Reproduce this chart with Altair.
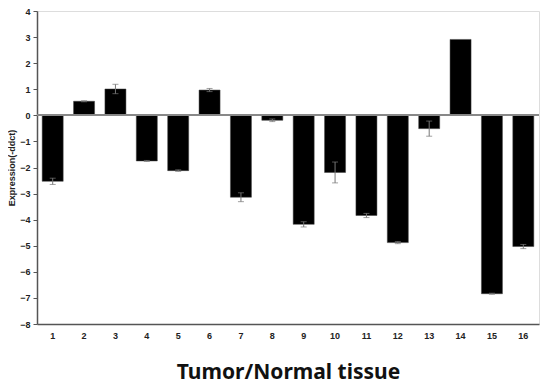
import altair as alt
import pandas as pd

categories = [str(i) for i in range(1, 17)]
values = [-2.53, 0.54, 1.01, -1.75, -2.12, 0.97, -3.14, -0.19, -4.18, -2.19, -3.84, -4.88, -0.51, 2.91, -6.84, -5.03]
errors = [0.12, 0.02, 0.18, 0.02, 0.03, 0.06, 0.17, 0.05, 0.1, 0.4, 0.08, 0.04, 0.29, 0.0, 0.02, 0.08]
y_ticks = list(range(-8, 5))

df = pd.DataFrame({"cat": categories, "val": values, "err": errors})
df["lo"] = df["val"] - df["err"]
df["hi"] = df["val"] + df["err"]

FONT = "Liberation Sans"

xaxis = alt.Axis(title="Tumor/Normal tissue", labelAngle=0, ticks=False,
                 labelPadding=7, labelFont=FONT, labelFontWeight="bold",
                 labelFontSize=9, labelColor="#222",
                 titleFont="Noto Sans", titleFontSize=21, titleFontWeight="bold",
                 titleColor="#111", titlePadding=21,
                 domainColor="#555", domainWidth=1.5)
xscale = alt.Scale(paddingInner=0.33, paddingOuter=0.165)

yaxis = alt.Axis(title="Expression(-ddct)", values=y_ticks, tickCount=13, grid=False,
                 labelOverlap=False, labelFlush=False,
                 tickSize=4, tickColor="#555", domainColor="#555", domainWidth=1.5,
                 labelFont=FONT, labelFontWeight="bold", labelFontSize=9,
                 labelColor="#222", labelPadding=3,
                 titleFont=FONT, titleFontWeight="bold", titleFontSize=9,
                 titleColor="#222", titlePadding=3)
yscale = alt.Scale(domain=[-8, 4], nice=False, zero=False)

X = alt.X("cat:N", sort=categories, scale=xscale, axis=xaxis)

bars = alt.Chart(df).mark_bar(color="#000", stroke="#444", strokeWidth=0.5).encode(
    x=X,
    y=alt.Y("val:Q", scale=yscale, axis=yaxis),
    y2=alt.datum(0),
)

zero = alt.Chart(df).mark_rule(color="#888", strokeWidth=1.2).encode(
    y=alt.Y(datum=0, scale=yscale, axis=yaxis))

edf = df[df["err"] > 0]
err = alt.Chart(edf).mark_rule(color="#777", strokeWidth=1).encode(
    x=X, y=alt.Y("lo:Q", scale=yscale, axis=yaxis), y2="hi:Q")
cap_lo = alt.Chart(edf).mark_tick(color="#777", thickness=1, size=6).encode(
    x=X, y=alt.Y("lo:Q", scale=yscale, axis=yaxis))
cap_hi = alt.Chart(edf).mark_tick(color="#777", thickness=1, size=6).encode(
    x=X, y=alt.Y("hi:Q", scale=yscale, axis=yaxis))

chart = alt.layer(bars, zero, err, cap_lo, cap_hi).properties(
    width=502, height=313,
    autosize=alt.AutoSizeParams(type="none"),
    padding={"left": 29, "top": 3, "right": 3, "bottom": 61},
).configure_view(stroke="#777", strokeWidth=1.2).configure(background="white")

chart.save("out.html", embed_options={"renderer": "svg", "actions": False})
